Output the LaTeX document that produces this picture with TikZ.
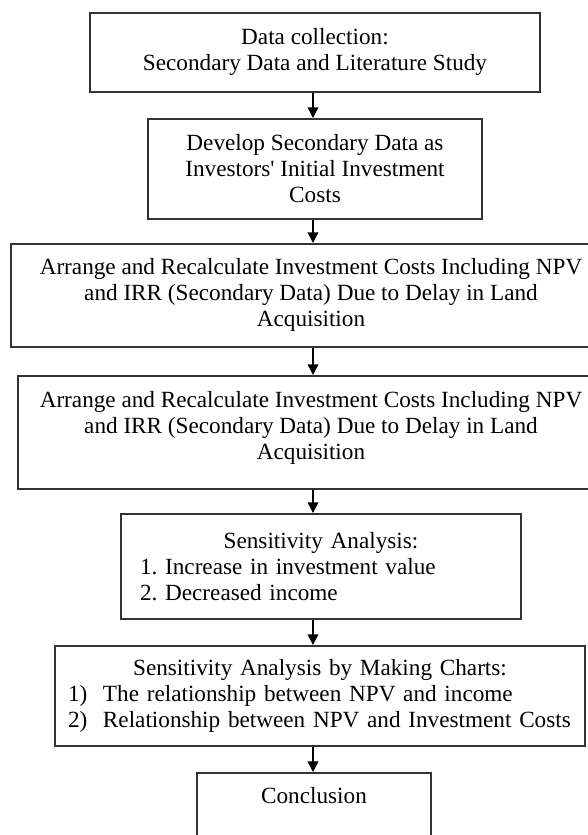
\documentclass[tikz,border=0pt]{standalone}
\usepackage{fontspec}
\setmainfont{Liberation Serif}
\usetikzlibrary{arrows.meta}

\tikzset{
  stepbox/.style={draw=black!80, line width=1.2pt, align=center, anchor=north,
    font=\fontsize{17.4pt}{19.5pt}\selectfont},
}

\begin{document}
\begin{tikzpicture}[x=0.75pt,y=0.75pt]
  \useasboundingbox (0,0) rectangle (588,-835);
  \coordinate (axis) at (313,0);
  \node[stepbox,minimum width=337.5pt,minimum height=59.25pt] (collect) at (315,-12)
    {Data collection:\\ Secondary Data and Literature Study};
  \node[stepbox,minimum width=250.5pt,minimum height=75pt] (develop) at (315,-118)
    {Develop Secondary Data as\\ Investors\textquotesingle{} Initial Investment\\ Costs};
  \node[stepbox,minimum width=450pt,minimum height=77.25pt] (recalc) at (311,-243)
    {Arrange and Recalculate Investment Costs Including NPV\\ and IRR (Secondary Data) Due to Delay in Land\\ Acquisition};
  \node[stepbox,minimum width=439.5pt,minimum height=84.75pt] (recalcb) at (311,-375)
    {Arrange and Recalculate Investment Costs Including NPV\\ and IRR (Secondary Data) Due to Delay in Land\\ Acquisition\\[-9pt]\mbox{}};
  \node[stepbox,minimum width=300pt,minimum height=78.75pt,align=left,text width=271.5pt] (sens) at (321,-513)
    {\makebox[\hsize]{Sensitivity Analysis:}\\ 1.\ Increase in investment value\\ 2.\ Decreased income};
  \node[stepbox,minimum width=397.5pt,minimum height=75pt,align=left,text width=378pt] (charts) at (320,-645)
    {\makebox[\hsize]{Sensitivity Analysis by Making Charts:}\\
     \makebox[26.25pt][l]{1)}The relationship between NPV and income\\
     \makebox[26.25pt][l]{2)}Relationship between NPV and Investment Costs};
  \node[stepbox,minimum width=175.5pt] (concl) at (314,-772)
    {\rule{0pt}{20pt}Conclusion\\[40pt]\mbox{}};
  % flow arrows
  \path[-{Stealth[inset=0pt,length=8pt,width=8pt]},line width=1.1pt]
    (collect.south -| axis) edge (develop.north -| axis)
    (develop.south -| axis) edge (recalc.north -| axis)
    (recalc.south -| axis) edge (recalcb.north -| axis)
    (recalcb.south -| axis) edge (sens.north -| axis)
    (sens.south -| axis) edge (charts.north -| axis)
    (charts.south -| axis) edge (concl.north -| axis);
\end{tikzpicture}
\end{document}
